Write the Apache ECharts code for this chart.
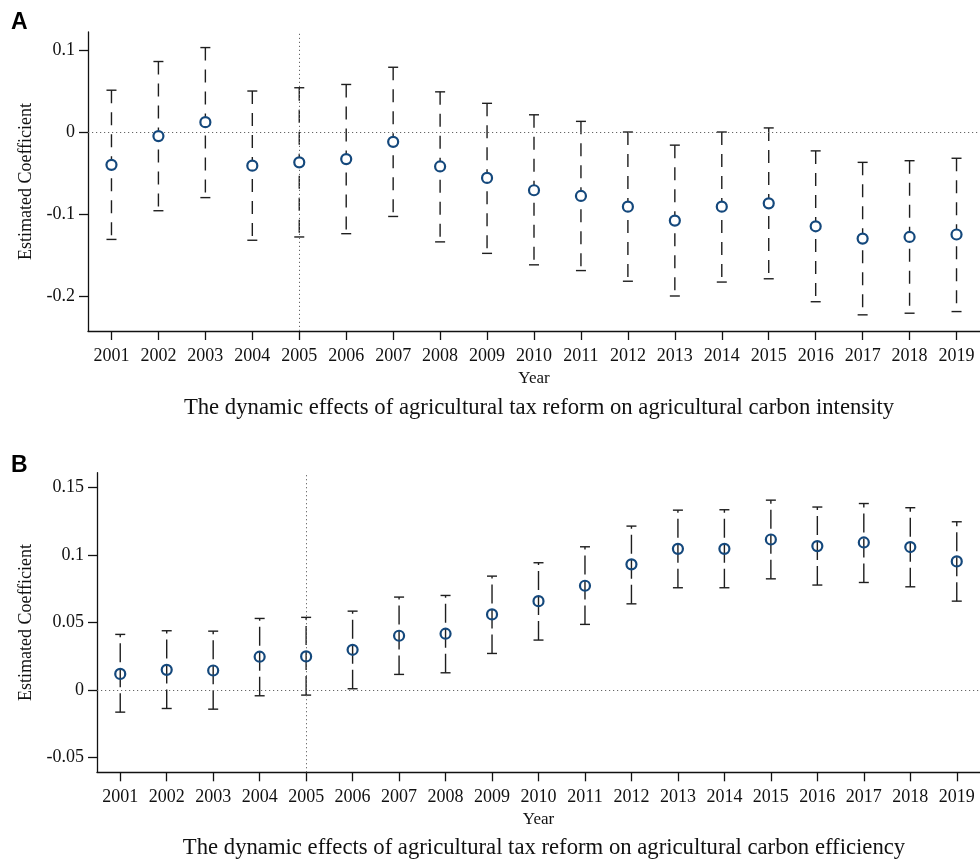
<!DOCTYPE html>
<html>
<head>
<meta charset="utf-8">
<script src="https://cdn.jsdelivr.net/npm/echarts@6/dist/echarts.min.js"></script>
<style>
html,body{margin:0;padding:0;background:#fff;}
#chart{width:980px;height:863px;}
</style>
</head>
<body>
<div id="chart"></div>
<script>
const years = ['2001','2002','2003','2004','2005','2006','2007','2008','2009','2010','2011','2012','2013','2014','2015','2016','2017','2018','2019'];

// Panel A: carbon intensity
const coefA = [-0.040, -0.005, 0.012, -0.041, -0.037, -0.033, -0.012, -0.042, -0.056, -0.071, -0.078, -0.091, -0.108, -0.091, -0.087, -0.115, -0.130, -0.128, -0.125];
const lowA  = [-0.131, -0.096, -0.080, -0.132, -0.128, -0.124, -0.103, -0.134, -0.148, -0.162, -0.169, -0.182, -0.200, -0.183, -0.179, -0.207, -0.223, -0.221, -0.219];
const highA = [0.051, 0.086, 0.103, 0.050, 0.054, 0.058, 0.079, 0.049, 0.035, 0.021, 0.013, 0.000, -0.016, 0.000, 0.005, -0.023, -0.037, -0.035, -0.032];
const ticksA = [-0.2, -0.1, 0, 0.1];

// Panel B: carbon efficiency
const coefB = [0.012, 0.015, 0.0145, 0.0247, 0.0249, 0.0298, 0.0402, 0.0417, 0.056, 0.0658, 0.0772, 0.093, 0.1045, 0.1045, 0.1114, 0.1065, 0.1092, 0.1058, 0.0952];
const lowB  = [-0.0163, -0.0136, -0.0141, -0.0042, -0.0037, 0.001, 0.0116, 0.0128, 0.0271, 0.037, 0.0486, 0.0638, 0.0757, 0.0757, 0.0823, 0.0777, 0.0796, 0.0764, 0.0658];
const highB = [0.0412, 0.0439, 0.0436, 0.053, 0.0538, 0.0584, 0.0688, 0.070, 0.0843, 0.0942, 0.106, 0.1213, 0.1331, 0.1334, 0.1405, 0.1354, 0.138, 0.1349, 0.1245];
const ticksB = [-0.05, 0, 0.05, 0.1, 0.15];

const refYear = '2005';

const serif = 'Liberation Serif';
const navy = '#14487C';
const barColor = '#1e1e1e';

function errRender(dash, capHalf, fromTop) {
  return function (params, api) {
    const xi = api.value(0);
    const lo = api.coord([xi, api.value(1)]);
    const hi = api.coord([xi, api.value(2)]);
    const s = { stroke: barColor, lineWidth: 1.4 };
    const a = fromTop ? hi : lo, b = fromTop ? lo : hi;
    return {
      type: 'group',
      children: [
        { type: 'line', shape: { x1: a[0], y1: a[1], x2: b[0], y2: b[1] }, style: Object.assign({ lineDash: dash }, s) },
        { type: 'line', shape: { x1: hi[0] - capHalf, y1: hi[1], x2: hi[0] + capHalf, y2: hi[1] }, style: s },
        { type: 'line', shape: { x1: lo[0] - capHalf, y1: lo[1], x2: lo[0] + capHalf, y2: lo[1] }, style: s }
      ]
    };
  };
}

function yAxis(gi, min, max, ticks, gap) {
  return {
    type: 'value', gridIndex: gi, min: min, max: max,
    name: 'Estimated Coefficient', nameLocation: 'middle', nameGap: gap, nameRotate: 90,
    nameTextStyle: { fontFamily: serif, fontSize: 18, color: '#111' },
    axisLine: { show: true, onZero: false, lineStyle: { color: '#111', width: 1.3 } },
    axisTick: { show: true, inside: false, length: 9, lineStyle: { color: '#111', width: 1.3 }, customValues: ticks },
    axisLabel: { fontFamily: serif, fontSize: 18, color: '#111', margin: 13, customValues: ticks,
      formatter: v => String(Math.round(v * 1000) / 1000) },
    splitLine: { show: false }
  };
}
function xAxis(gi) {
  return {
    type: 'category', gridIndex: gi, data: years, boundaryGap: true,
    name: 'Year', nameLocation: 'middle', nameGap: 39,
    nameTextStyle: { fontFamily: serif, fontSize: 17, color: '#111' },
    axisLine: { show: true, onZero: false, lineStyle: { color: '#111', width: 1.3 } },
    axisTick: { show: true, inside: false, alignWithLabel: true, length: 9, lineStyle: { color: '#111', width: 1.3 } },
    axisLabel: { fontFamily: serif, fontSize: 18, color: '#111', margin: 16, interval: 0 },
    splitLine: { show: false }
  };
}

const refLines = {
  silent: true, symbol: 'none', label: { show: false },
  lineStyle: { type: [1.2, 2.8], color: '#666', width: 1 },
  data: [{ yAxis: 0 }, { xAxis: refYear }]
};

const chart = echarts.init(document.getElementById('chart'), null, { renderer: 'canvas' });
chart.setOption({
  animation: false,
  backgroundColor: '#fff',
  grid: [
    { left: 88, right: 0, top: 32, height: 299 },
    { left: 97, right: 0, top: 472.7, height: 299.6 }
  ],
  xAxis: [xAxis(0), xAxis(1)],
  yAxis: [yAxis(0, -0.2427, 0.1220, ticksA, 49), yAxis(1, -0.0608, 0.1608, ticksB, 57)],
  graphic: [
    { type: 'text', left: 11, top: 11, style: { text: 'A', font: 'bold 23px "Liberation Sans"', fill: '#000' } },
    { type: 'text', left: 11, top: 454, style: { text: 'B', font: 'bold 23px "Liberation Sans"', fill: '#000' } },
    { type: 'text', x: 539, y: 408, style: { text: 'The dynamic effects of agricultural tax reform on agricultural carbon intensity', font: '22.7px "Liberation Serif"', fill: '#111', textAlign: 'center', textVerticalAlign: 'middle' } },
    { type: 'text', x: 544, y: 848, style: { text: 'The dynamic effects of agricultural tax reform on agricultural carbon efficiency', font: '22.7px "Liberation Serif"', fill: '#111', textAlign: 'center', textVerticalAlign: 'middle' } }
  ],
  series: [
    {
      type: 'custom', xAxisIndex: 0, yAxisIndex: 0, z: 2,
      renderItem: errRender([13, 9], 5, true),
      encode: { x: 0, y: [1, 2] },
      data: years.map((y, i) => [i, lowA[i], highA[i]])
    },
    {
      type: 'scatter', xAxisIndex: 0, yAxisIndex: 0, z: 5,
      symbol: 'circle', symbolSize: 10,
      itemStyle: { color: '#fff', borderColor: navy, borderWidth: 2.2, opacity: 1 },
      data: coefA,
      markLine: refLines
    },
    {
      type: 'custom', xAxisIndex: 1, yAxisIndex: 1, z: 2,
      renderItem: errRender([19, 6], 5, false),
      encode: { x: 0, y: [1, 2] },
      data: years.map((y, i) => [i, lowB[i], highB[i]])
    },
    {
      type: 'scatter', xAxisIndex: 1, yAxisIndex: 1, z: 5,
      symbol: 'circle', symbolSize: 10,
      itemStyle: { color: 'rgba(255,255,255,0)', borderColor: navy, borderWidth: 2.2, opacity: 1 },
      data: coefB,
      markLine: refLines
    }
  ]
});
</script>
</body>
</html>
